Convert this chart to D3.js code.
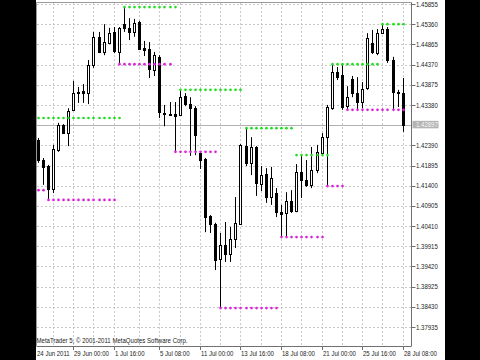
<!DOCTYPE html>
<html><head><meta charset="utf-8">
<script src="https://cdn.jsdelivr.net/npm/d3@7"></script>
<style>html,body{margin:0;padding:0;background:#fff;overflow:hidden}svg{display:block}</style>
</head><body>
<svg id="c" width="480" height="360"></svg>
<script>
// ---- data (H8 bars) ----
const opens = [1.4252,1.4203,1.4188,1.4132,1.4228,1.4288,1.4269,1.4326,1.4367,1.4371,1.4367,1.4436,1.4505,1.4468,1.4490,1.4517,1.4468,1.4536,1.4527,1.4517,1.4541,1.4478,1.4475,1.4424,1.4456,1.4318,1.4316,1.4315,1.4313,1.4360,1.4340,1.4330,1.4220,1.4205,1.4066,1.4046,1.3960,1.3995,1.3973,1.4009,1.4046,1.4237,1.4196,1.4235,1.4144,1.4169,1.4112,1.4122,1.4075,1.4073,1.4102,1.4078,1.4174,1.4154,1.4142,1.4179,1.4220,1.4259,1.4330,1.4419,1.4411,1.4335,1.4402,1.4367,1.4345,1.4380,1.4490,1.4465,1.4514,1.4524,1.4448,1.4367,1.4367];
const highs = [1.4257,1.4208,1.4191,1.4240,1.4294,1.4291,1.4330,1.4397,1.4382,1.4389,1.4448,1.4517,1.4517,1.4536,1.4527,1.4529,1.4529,1.4578,1.4551,1.4549,1.4544,1.4495,1.4492,1.4468,1.4460,1.4338,1.4345,1.4345,1.4375,1.4367,1.4357,1.4335,1.4225,1.4208,1.4068,1.4049,1.4024,1.4051,1.4039,1.4112,1.4242,1.4281,1.4259,1.4237,1.4188,1.4183,1.4186,1.4134,1.4093,1.4124,1.4129,1.4193,1.4215,1.4203,1.4235,1.4240,1.4269,1.4338,1.4438,1.4431,1.4438,1.4384,1.4409,1.4406,1.4394,1.4514,1.4522,1.4524,1.4536,1.4529,1.4456,1.4375,1.4404];
const lows = [1.4196,1.4142,1.4105,1.4122,1.4223,1.4267,1.4237,1.4323,1.4343,1.4343,1.4340,1.4429,1.4465,1.4460,1.4487,1.4465,1.4438,1.4517,1.4497,1.4505,1.4473,1.4458,1.4404,1.4409,1.4306,1.4286,1.4311,1.4223,1.4311,1.4335,1.4213,1.4215,1.4181,1.4026,1.4024,1.3933,1.3840,1.3953,1.3953,1.3987,1.4044,1.4188,1.4166,1.4115,1.4127,1.4098,1.4093,1.4063,1.4014,1.4014,1.4073,1.4075,1.4110,1.4137,1.4134,1.4171,1.4215,1.4139,1.4326,1.4399,1.4326,1.4328,1.4357,1.4328,1.4330,1.4375,1.4463,1.4460,1.4512,1.4441,1.4328,1.4333,1.4272];
const closes = [1.4203,1.4186,1.4132,1.4230,1.4289,1.4269,1.4323,1.4367,1.4370,1.4367,1.4436,1.4505,1.4468,1.4492,1.4514,1.4470,1.4527,1.4527,1.4517,1.4539,1.4475,1.4473,1.4426,1.4460,1.4321,1.4315,1.4314,1.4312,1.4357,1.4340,1.4330,1.4264,1.4203,1.4063,1.4046,1.3958,1.3995,1.3973,1.4009,1.4049,1.4240,1.4196,1.4235,1.4147,1.4166,1.4112,1.4159,1.4075,1.4071,1.4102,1.4078,1.4174,1.4154,1.4142,1.4179,1.4223,1.4259,1.4333,1.4419,1.4406,1.4333,1.4357,1.4367,1.4345,1.4377,1.4502,1.4468,1.4514,1.4524,1.4448,1.4370,1.4370,1.42897];

// resistance (green dots) and support (magenta dots) levels, per bar range
const resValues = [1.4306,1.4578,1.4375,1.4281,1.4215,1.4438,1.4536];
const resFrom   = [0,17,28,41,51,58,68];
const resTo     = [16,27,40,50,57,67,72];
const supValues = [1.4129,1.4105,1.4438,1.4223,1.3840,1.4014,1.4139,1.4326];
const supFrom   = [0,2,16,27,36,48,57,61];
const supTo     = [1,15,26,35,47,56,60,72];

const priceTicks = [1.45855,1.45360,1.44865,1.44370,1.43875,1.43380,1.42390,1.41895,1.41400,1.40905,1.40410,1.39915,1.39420,1.38925,1.38430,1.37935];
const gridPrices = [1.45855,1.45360,1.44865,1.44370,1.43875,1.43380,1.42885,1.42390,1.41895,1.41400,1.40905,1.40410,1.39915,1.39420,1.38925,1.38430,1.37935];
const timeLabels = ["24 Jun 2011","29 Jun 00:00","1 Jul 16:00","5 Jul 08:00","11 Jul 00:00","13 Jul 16:00","18 Jul 08:00","21 Jul 00:00","25 Jul 16:00","28 Jul 08:00"];
const timeLabelBars = [0,7,15,24,32,40,48,56,64,72];
const gridBars = [3,7,11,15,20,24,28,32,36,40,44,48,52,56,60,64,68,72];
const lastPrice = 1.42897;
const copyright = "MetaTrader 5, \u00a9 2001-2011 MetaQuotes Software Corp.";

// ---- layout ----
const L = 37, R = 411.5, T = 3, B = 346;
const svg = d3.select("#c");
const n = opens.length;
const x = d3.scalePoint().domain(d3.range(n)).range([37.7, 402.7]);
const y = d3.scaleLinear().domain([1.37935, 1.45855]).range([327, 4]);
const FONT = "'Liberation Sans', Arial, sans-serif";
const SX = 0.84;

svg.append("rect").attr("width",480).attr("height",360).attr("fill","#fff");
svg.append("rect").attr("x",0).attr("y",0).attr("width",36).attr("height",360).attr("fill","#000");
svg.append("rect").attr("x",445).attr("y",0).attr("width",35).attr("height",360).attr("fill","#000");

svg.append("defs").append("clipPath").attr("id","plot")
  .append("rect").attr("x",L).attr("y",T).attr("width",R-L).attr("height",B-T);

const g = svg.append("g").attr("clip-path","url(#plot)");

// grid
g.selectAll("line.hg").data(gridPrices).join("line")
  .attr("x1",L).attr("x2",R)
  .attr("y1",d=>Math.round(y(d))+0.5).attr("y2",d=>Math.round(y(d))+0.5)
  .attr("stroke","#c8c8c8").attr("stroke-dasharray","2,2");
g.selectAll("line.vg").data(gridBars).join("line")
  .attr("x1",d=>Math.round(x(d))+0.5).attr("x2",d=>Math.round(x(d))+0.5)
  .attr("y1",T).attr("y2",B)
  .attr("stroke","#c8c8c8").attr("stroke-dasharray","2,2");

// bid line
g.append("line").attr("x1",L).attr("x2",R)
  .attr("y1",Math.round(y(lastPrice))+0.5).attr("y2",Math.round(y(lastPrice))+0.5)
  .attr("stroke","#b0b0b0");

// candles
const idx = d3.range(n);
g.selectAll("line.wick").data(idx).join("line")
  .attr("x1",i=>Math.round(x(i))+0.5).attr("x2",i=>Math.round(x(i))+0.5)
  .attr("y1",i=>y(highs[i])).attr("y2",i=>y(lows[i]))
  .attr("stroke","#000").attr("stroke-width",1);
g.selectAll("rect.body").data(idx).join("rect")
  .each(function(i){
    const up = closes[i] >= opens[i];
    const top = Math.round(y(Math.max(opens[i],closes[i])));
    const bot = Math.round(y(Math.min(opens[i],closes[i])));
    const cx = Math.round(x(i));
    const s = d3.select(this);
    if (up) {
      s.attr("x",cx-1+0.5).attr("width",2).attr("y",top+0.5).attr("height",Math.max(0,bot-top))
       .attr("fill","#fff").attr("stroke","#000").attr("stroke-width",1);
    } else {
      s.attr("x",cx-1).attr("width",3).attr("y",top).attr("height",Math.max(1,bot-top+1))
       .attr("fill","#000");
    }
  });

// level dots
function dots(values, from, to, color){
  const pts = [];
  values.forEach((v,k)=>{ for(let i=from[k]; i<=to[k]; i++) pts.push([i,v]); });
  g.append("g").selectAll("circle").data(pts).join("circle")
    .attr("cx",d=>Math.round(x(d[0]))+0.5).attr("cy",d=>y(d[1]))
    .attr("r",1.35).attr("fill",color);
}
dots(resValues,resFrom,resTo,"#22dd22");
dots(supValues,supFrom,supTo,"#dd22dd");

// frame / axes
svg.append("line").attr("x1",L-0.5).attr("x2",R).attr("y1",T-0.5).attr("y2",T-0.5).attr("stroke","#9a9a9a");
svg.append("line").attr("x1",L-0.5).attr("x2",L-0.5).attr("y1",T-0.5).attr("y2",B).attr("stroke","#9a9a9a");
svg.append("line").attr("x1",R).attr("x2",R).attr("y1",T-0.5).attr("y2",B+0.5).attr("stroke","#707070");
svg.append("line").attr("x1",L-0.5).attr("x2",R).attr("y1",B+0.5).attr("y2",B+0.5).attr("stroke","#707070");

// price axis
svg.selectAll("line.pt").data(priceTicks).join("line")
  .attr("x1",R).attr("x2",R+4)
  .attr("y1",d=>Math.round(y(d))+0.5).attr("y2",d=>Math.round(y(d))+0.5)
  .attr("stroke","#707070");
svg.selectAll("text.pl").data(priceTicks).join("text")
  .attr("transform",d=>`translate(${R+4.5},${y(d)+2.6}) scale(${SX},1)`)
  .attr("font-family",FONT).attr("font-size",7.2).attr("fill","#222")
  .text(d=>d.toFixed(5));

// last price label
const ly = y(lastPrice);
svg.append("rect").attr("x",R+1).attr("y",ly-3.8).attr("width",26).attr("height",7.5).attr("fill","#b4b4b4");
svg.append("text").attr("transform",`translate(${R+4.5},${ly+2.6}) scale(${SX},1)`)
  .attr("font-family",FONT).attr("font-size",7.2).attr("fill","#f4f4f4").text(lastPrice.toFixed(5));

// time axis
svg.selectAll("line.tt").data(timeLabelBars.slice(1)).join("line")
  .attr("x1",d=>Math.round(x(d))+0.5).attr("x2",d=>Math.round(x(d))+0.5)
  .attr("y1",B).attr("y2",B+4).attr("stroke","#707070");
svg.selectAll("text.tl").data(timeLabels).join("text")
  .attr("transform",(d,k)=>`translate(${k===0 ? 37 : Math.round(x(timeLabelBars[k]))+1},355.5) scale(${SX},1)`)
  .attr("font-family",FONT).attr("font-size",7.2).attr("fill","#222")
  .text(d=>d);

// copyright
svg.append("text").attr("x",36.5).attr("y",343)
  .attr("font-family",FONT).attr("font-size",7.2).attr("fill","#222")
  .attr("textLength",151).attr("lengthAdjust","spacingAndGlyphs").text(copyright);
</script>
</body></html>
